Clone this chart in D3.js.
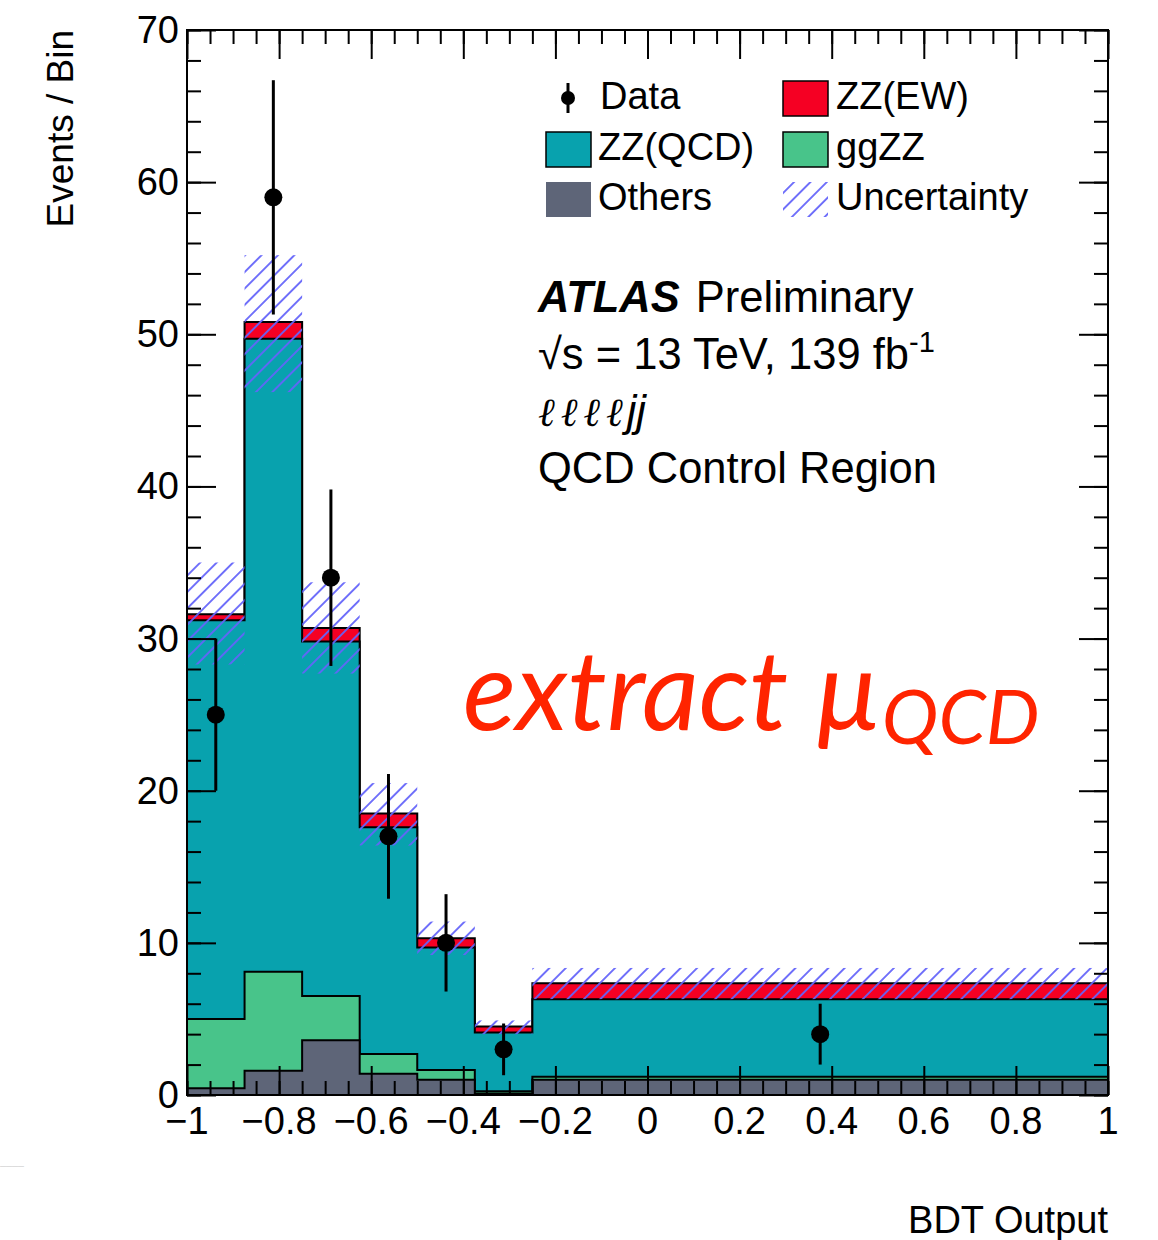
<!DOCTYPE html>
<html>
<head>
<meta charset="utf-8">
<title>BDT Output - QCD Control Region</title>
<script src="https://cdn.jsdelivr.net/npm/d3@7"></script>
<style>
  body { margin: 0; background: #fff; }
  text { font-family: "Liberation Sans", Arial, Helvetica, sans-serif; fill: #000; }
</style>
</head>
<body>
<script>
// bins of the BDT output
var binEdges = [-1, -0.875, -0.75, -0.625, -0.5, -0.375, -0.25, 1];

// stacked backgrounds (per component, events / bin)
var others = [0.45, 1.6, 3.6, 1.4, 1.0, 0.1, 1.0];
var ggZZ   = [4.55, 6.5, 2.9, 1.3, 0.65, 0.15, 0.2];
var zzQCD  = [26.2, 41.6, 23.3, 14.9, 8.05, 3.85, 5.1];
var zzEW   = [0.4, 1.1, 0.9, 0.9, 0.6, 0.4, 1.05];

// total uncertainty band
var uncLow  = [28.3, 46.2, 27.7, 16.4, 9.2, 4.0, 6.3];
var uncHigh = [35.0, 55.2, 33.7, 20.5, 11.4, 4.9, 8.35];

// data
var dataVals = [25, 59, 34, 17, 10, 3, 4];
var dataErr  = [5, 7.7, 5.8, 4.1, 3.2, 1.7, 2.0];

// axis ticks
var xTickVals   = [-1, -0.8, -0.6, -0.4, -0.2, 0, 0.2, 0.4, 0.6, 0.8, 1];
var xTickLabels = ["\u22121", "\u22120.8", "\u22120.6", "\u22120.4", "\u22120.2", "0", "0.2", "0.4", "0.6", "0.8", "1"];
var yTickVals   = [0, 10, 20, 30, 40, 50, 60, 70];
var yTickLabels = ["0", "10", "20", "30", "40", "50", "60", "70"];

var colors = {others: "#5e6578", ggZZ: "#48c48a", zzQCD: "#08a2ae", zzEW: "#f50023", hatch: "#6464fa"};

var W = 1158, H = 1240;
var pL = 187, pR = 1108, pT = 30, pB = 1095;

var x = d3.scaleLinear().domain([-1, 1]).range([pL, pR]);
var y = d3.scaleLinear().domain([0, 70]).range([pB, pT]);

var svg = d3.select("body").append("svg").attr("width", W).attr("height", H);

// hatch pattern for the uncertainty
var defs = svg.append("defs");
defs.append("pattern")
  .attr("id", "hatch").attr("patternUnits", "userSpaceOnUse")
  .attr("width", 11.6).attr("height", 11.6)
  .attr("patternTransform", "rotate(45)")
  .append("line")
  .attr("x1", 5.8).attr("y1", 0).attr("x2", 5.8).attr("y2", 11.6)
  .attr("stroke", colors.hatch).attr("stroke-width", 1.8);

// build rows and stack them
var rows = binEdges.slice(0, -1).map(function(e, i) {
  return {others: others[i], ggZZ: ggZZ[i], zzQCD: zzQCD[i], zzEW: zzEW[i]};
});
var keys = ["others", "ggZZ", "zzQCD", "zzEW"];
var stacked = d3.stack().keys(keys)(rows);

function stepPath(tops) {
  var p = "M" + x(binEdges[0]) + "," + y(0);
  tops.forEach(function(t, i) {
    p += "L" + x(binEdges[i]) + "," + y(t) + "L" + x(binEdges[i + 1]) + "," + y(t);
  });
  p += "L" + x(binEdges[binEdges.length - 1]) + "," + y(0) + "Z";
  return p;
}

// draw from the top of the stack down, as ROOT does
svg.append("g").selectAll("path")
  .data(stacked.slice().reverse())
  .enter().append("path")
  .attr("d", function(s) { return stepPath(s.map(function(d) { return d[1]; })); })
  .attr("fill", function(s) { return colors[s.key]; })
  .attr("stroke", "#000").attr("stroke-width", 2);

// uncertainty band
svg.append("g").selectAll("rect")
  .data(uncLow)
  .enter().append("rect")
  .attr("x", function(d, i) { return x(binEdges[i]); })
  .attr("width", function(d, i) { return x(binEdges[i + 1]) - x(binEdges[i]); })
  .attr("y", function(d, i) { return y(uncHigh[i]); })
  .attr("height", function(d, i) { return y(d) - y(uncHigh[i]); })
  .attr("fill", "url(#hatch)");

// axes: ticks inward on all four sides
function ticks(axis, scale, vals, size, tr) {
  var g = svg.append("g").attr("transform", tr)
    .call(axis(scale).tickValues(vals).tickSize(size).tickFormat(""));
  g.select(".domain").remove();
  g.selectAll("line").attr("stroke", "#000").attr("stroke-width", 2);
}
var xMinor = x.ticks(40), yMinor = y.ticks(35);
ticks(d3.axisBottom, x, xMinor, -14, "translate(0," + pB + ")");
ticks(d3.axisBottom, x, xTickVals, -29, "translate(0," + pB + ")");
ticks(d3.axisTop, x, xMinor, -14, "translate(0," + pT + ")");
ticks(d3.axisTop, x, xTickVals, -29, "translate(0," + pT + ")");
ticks(d3.axisLeft, y, yMinor, -14, "translate(" + pL + ",0)");
ticks(d3.axisLeft, y, yTickVals, -29, "translate(" + pL + ",0)");
ticks(d3.axisRight, y, yMinor, -14, "translate(" + pR + ",0)");
ticks(d3.axisRight, y, yTickVals, -29, "translate(" + pR + ",0)");

svg.append("rect")
  .attr("x", pL).attr("y", pT).attr("width", pR - pL).attr("height", pB - pT)
  .attr("fill", "none").attr("stroke", "#000").attr("stroke-width", 2);

// tick labels
svg.append("g").selectAll("text")
  .data(xTickVals).enter().append("text")
  .attr("x", function(d) { return x(d); }).attr("y", 1134)
  .attr("text-anchor", "middle").attr("font-size", 38)
  .text(function(d, i) { return xTickLabels[i]; });
svg.append("g").selectAll("text")
  .data(yTickVals).enter().append("text")
  .attr("x", 179).attr("y", function(d) { return y(d) + 13; })
  .attr("text-anchor", "end").attr("font-size", 38)
  .text(function(d, i) { return yTickLabels[i]; });

// axis titles
svg.append("text").attr("transform", "translate(73," + pT + ") rotate(-90)")
  .attr("text-anchor", "end").attr("font-size", 37).text("Events / Bin");
svg.append("text").attr("x", pR).attr("y", 1233)
  .attr("text-anchor", "end").attr("font-size", 38).text("BDT Output");

// data points
var dg = svg.append("g");
dataVals.forEach(function(v, i) {
  var cx = x((binEdges[i] + binEdges[i + 1]) / 2);
  dg.append("line").attr("x1", cx).attr("x2", cx)
    .attr("y1", y(v + dataErr[i])).attr("y2", y(v - dataErr[i]))
    .attr("stroke", "#000").attr("stroke-width", 3);
  dg.append("circle").attr("cx", cx).attr("cy", y(v)).attr("r", 9).attr("fill", "#000");
});

// legend
var leg = svg.append("g");
var legItems = [
  {label: "Data", type: "data", col: 0, row: 0},
  {label: "ZZ(EW)", type: "box", key: "zzEW", col: 1, row: 0},
  {label: "ZZ(QCD)", type: "box", key: "zzQCD", col: 0, row: 1},
  {label: "ggZZ", type: "box", key: "ggZZ", col: 1, row: 1},
  {label: "Others", type: "box", key: "others", col: 0, row: 2, noLine: true},
  {label: "Uncertainty", type: "hatch", col: 1, row: 2}
];
var colX = [546, 783], rowY = [81, 132, 182];
legItems.forEach(function(it) {
  var bx = colX[it.col], by = rowY[it.row];
  if (it.type === "data") {
    leg.append("line").attr("x1", 568).attr("x2", 568).attr("y1", by + 2).attr("y2", by + 32)
      .attr("stroke", "#000").attr("stroke-width", 3);
    leg.append("circle").attr("cx", 568).attr("cy", by + 17).attr("r", 7).attr("fill", "#000");
  } else if (it.type === "box") {
    leg.append("rect").attr("x", bx).attr("y", by).attr("width", 45).attr("height", 35)
      .attr("fill", colors[it.key])
      .attr("stroke", it.noLine ? "none" : "#000").attr("stroke-width", it.noLine ? 0 : 1.5);
  } else {
    leg.append("rect").attr("x", bx).attr("y", by).attr("width", 45).attr("height", 35)
      .attr("fill", "url(#hatch)");
  }
  leg.append("text").attr("x", it.col === 0 ? (it.type === "data" ? 600 : 598) : 836)
    .attr("y", by + 28).attr("font-size", 38).text(it.label);
});

// ATLAS label block
var lab = svg.append("g");
var t1 = lab.append("text").attr("x", 538).attr("y", 312).attr("font-size", 43.5);
t1.append("tspan").attr("font-weight", "bold").attr("font-style", "italic").text("ATLAS");
t1.append("tspan").attr("dx", 4).text(" Preliminary");
var t2 = lab.append("text").attr("x", 538).attr("y", 369).attr("font-size", 43.5);
t2.append("tspan").text("\u221As = 13 TeV, 139 fb");
t2.append("tspan").attr("font-size", 29).attr("dy", -17).text("-1");
var t3 = lab.append("text").attr("x", 538).attr("y", 426).attr("font-size", 43.5);
t3.append("tspan").attr("font-family", "'DejaVu Serif', 'Liberation Serif', serif").attr("font-style", "italic")
  .attr("font-size", 40).attr("letter-spacing", 6).text("\u2113\u2113\u2113\u2113");
t3.append("tspan").attr("font-style", "italic").attr("dx", -2).text("jj");
lab.append("text").attr("x", 538).attr("y", 483).attr("font-size", 43.5).text("QCD Control Region");

// annotation
var ann = svg.append("text").attr("x", 463).attr("y", 730)
  .style("font-family", "Lato, 'Open Sans', sans-serif").style("font-style", "italic")
  .style("fill", "#ff2400").attr("font-size", 111);
ann.append("tspan").text("extract \u00B5");
ann.append("tspan").attr("font-size", 76).attr("dy", 14).text("QCD");

// faint mark at bottom left
svg.append("text").attr("x", 0).attr("y", 1168).attr("font-size", 6)
  .style("fill", "#aaa").text("\u2014\u2014\u2014\u2014");
</script>
</body>
</html>
